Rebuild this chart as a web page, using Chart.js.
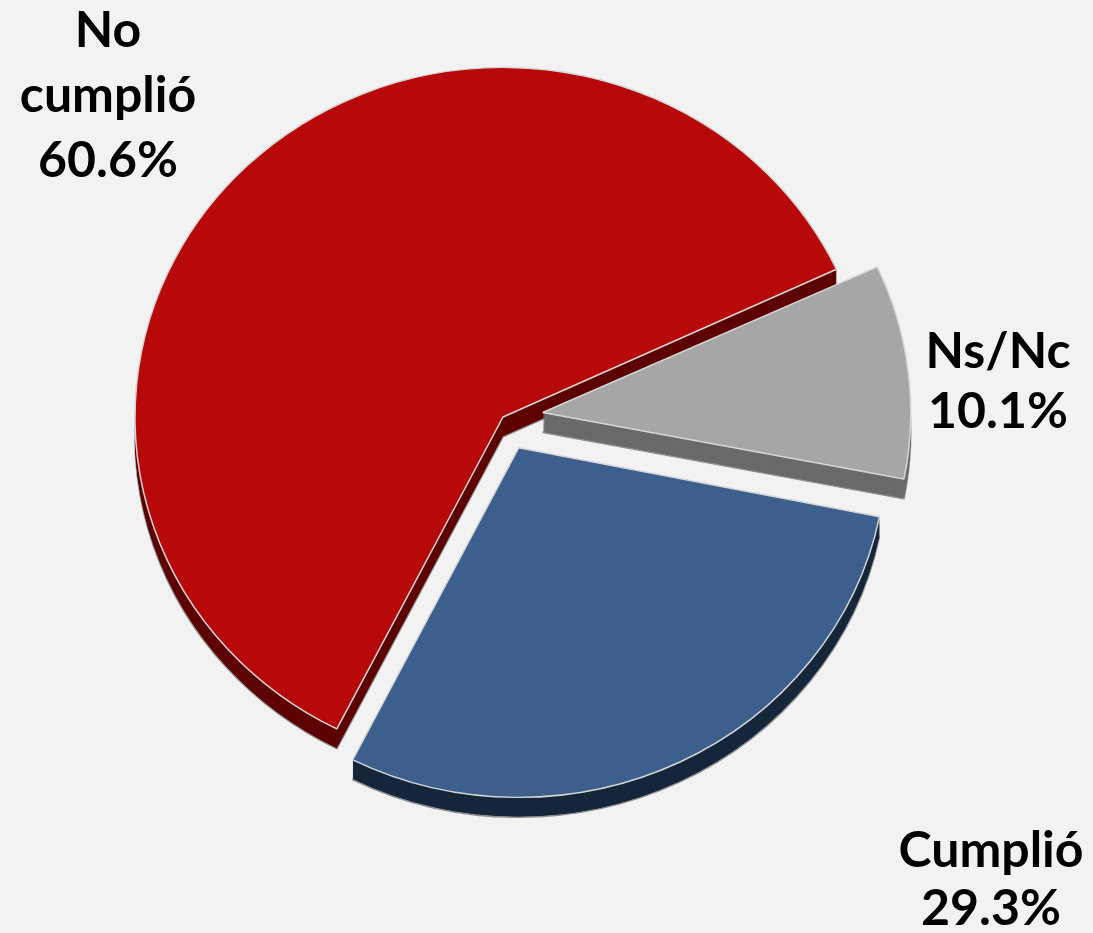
<!DOCTYPE html>
<html lang="es">
<head>
<meta charset="utf-8">
<title>Cumplimiento</title>
<script src="https://cdn.jsdelivr.net/npm/chart.js@4.4.1/dist/chart.umd.min.js"></script>
<style>
  html, body { margin: 0; padding: 0; background: #f2f2f2; }
  canvas { display: block; }
</style>
</head>
<body>
<canvas id="pie" width="1093" height="933"></canvas>
<script>
  // ---------- data ----------
  const labels = ["Ns/Nc", "Cumplió", "No cumplió"];
  const values = [10.1, 29.3, 60.6];

  // ---------- look ----------
  const topColors = ["#a6a6a6", "#3c5f8d", "#b70909"];
  const sideColors = ["#6a6a6a", "#16263b", "#5e0303"];
  const explodePx = [40, 36, 0];
  const DEPTH = 21;
  const SQUASH = 0.95;

  // label anchors: centre x, first baseline, line height
  const labelSpots = [
    { x: 998, y: 368, lh: 60 },
    { x: 991, y: 867, lh: 58 },
    { x: 108, y: 47, lh: 65 },
  ];

  // fake 3D: extrude each arc downwards, squash the disc a little
  const pie3d = {
    id: "pie3d",
    beforeDatasetsDraw(chart) {
      const ctx = chart.ctx;
      const meta = chart.getDatasetMeta(0);
      // chart.js grows the radius of a narrow exploded arc; keep it the same size as the rest
      meta.data.forEach((arc) => {
        if (arc.$baseR === undefined) arc.$baseR = arc.outerRadius;
        const fix = 1 - Math.sin(Math.min(Math.PI, arc.endAngle - arc.startAngle));
        arc.outerRadius = arc.$baseR - ((arc.options.offset || 0) / 4) * fix;
      });
      const { x, y } = meta.data[0];
      ctx.save();
      ctx.translate(x, y);
      ctx.scale(1, SQUASH);
      ctx.translate(-x, -y);
      for (let d = DEPTH; d >= 1; d--) {
        meta.data.forEach((arc, i) => {
          const keep = arc.options;
          arc.options = Object.create(keep, {
            backgroundColor: { value: sideColors[i] },
            borderColor: { value: "#8f8f8f" },
            borderWidth: { value: d === DEPTH ? 1.5 : 0 },
          });
          ctx.save();
          ctx.translate(0, d);
          arc.draw(ctx);
          ctx.restore();
          arc.options = keep;
        });
      }
    },
    afterDatasetsDraw(chart) {
      chart.ctx.restore();
    },
    afterDraw(chart) {
      const ctx = chart.ctx;
      ctx.save();
      ctx.fillStyle = "#000";
      ctx.font = "bold 50px Lato";
      ctx.textAlign = "center";
      ctx.textBaseline = "alphabetic";
      labels.forEach((lab, i) => {
        const spot = labelSpots[i];
        const lines = lab.split(" ").concat([`${values[i].toFixed(1)}%`]);
        lines.forEach((t, k) => ctx.fillText(t, spot.x, spot.y + k * spot.lh));
      });
      ctx.restore();
    },
  };

  new Chart(document.getElementById("pie"), {
    type: "pie",
    data: {
      labels,
      datasets: [
        {
          data: values,
          backgroundColor: topColors,
          borderColor: "#d6d6d6",
          borderWidth: 1.5,
          offset: explodePx.map((p) => p * 4),
          radius: 368,
          rotation: 65,
          clip: false,
        },
      ],
    },
    options: {
      responsive: false,
      animation: false,
      events: [],
      layout: { padding: { left: 0, right: 87, top: 0, bottom: 99 } },
      plugins: {
        legend: { display: false },
        tooltip: { enabled: false },
      },
    },
    plugins: [pie3d],
  });
</script>
</body>
</html>
